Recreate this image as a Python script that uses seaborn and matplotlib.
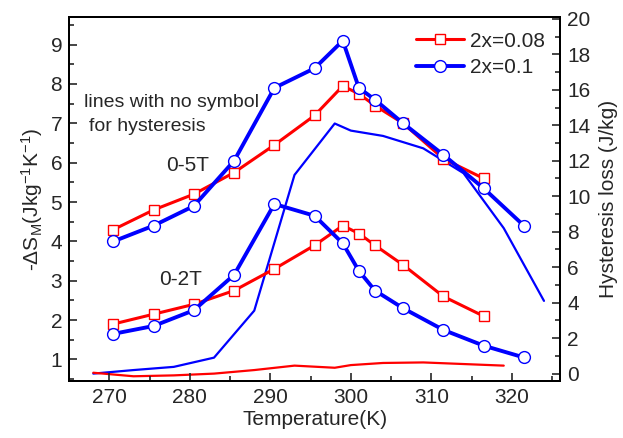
import matplotlib
matplotlib.use("Agg")
import matplotlib.pyplot as plt
from matplotlib.ticker import MultipleLocator
import seaborn as sns
import pandas as pd

# ---- data ----
T_red = [270.5, 275.5, 280.5, 285.5, 290.5, 295.5, 299, 301, 303, 306.5, 311.5, 316.5]
red_5T = [4.3, 4.8, 5.2, 5.75, 6.45, 7.2, 7.95, 7.75, 7.45, 7.0, 6.1, 5.6]
red_2T = [1.9, 2.15, 2.4, 2.75, 3.3, 3.9, 4.4, 4.2, 3.9, 3.4, 2.6, 2.1]

T_blue = [270.5, 275.5, 280.5, 285.5, 290.5, 295.5, 299, 301, 303, 306.5, 311.5, 316.5, 321.5]
blue_5T = [4.0, 4.4, 4.9, 6.05, 7.9, 8.4, 9.1, 7.9, 7.6, 7.0, 6.2, 5.35, 4.4]
blue_2T = [1.65, 1.85, 2.25, 3.15, 4.95, 4.65, 3.95, 3.25, 2.75, 2.3, 1.75, 1.35, 1.05]

T_hyst_blue = [268, 273, 278, 283, 288, 293, 298, 300, 304, 309, 314, 319, 324]
hyst_blue = [0.0, 0.2, 0.38, 0.9, 3.55, 11.2, 14.1, 13.7, 13.4, 12.7, 11.3, 8.2, 4.1]
T_hyst_red = [268, 273, 278, 283, 288, 293, 298, 300, 304, 309, 319]
hyst_red = [0.05, -0.15, -0.1, 0.0, 0.2, 0.45, 0.33, 0.48, 0.6, 0.63, 0.45]

labels = ["2x=0.08", "2x=0.1"]

sns.set_theme(style="ticks")
plt.rcParams["font.family"] = ["Liberation Sans", "DejaVu Sans"]
plt.rcParams["mathtext.fontset"] = "custom"
plt.rcParams["mathtext.rm"] = "Liberation Sans"
plt.rcParams["mathtext.it"] = "Liberation Sans:italic"
plt.rcParams["mathtext.default"] = "regular"

FS = 15
fig = plt.figure(figsize=(6.23, 4.38), dpi=100)
ax = fig.add_axes([0.111, 0.130, 0.788, 0.831])
ax2 = ax.twinx()

red_style = dict(color="red", marker="s", markersize=7, markerfacecolor="white",
                 markeredgecolor="red", markeredgewidth=1.0, linewidth=2.2)
blue_style = dict(color="blue", marker="o", markersize=8.5, markerfacecolor="white",
                  markeredgecolor="blue", markeredgewidth=1.0, linewidth=2.8)

df_r = pd.DataFrame({"T": T_red, "s5": red_5T, "s2": red_2T})
df_b = pd.DataFrame({"T": T_blue, "s5": blue_5T, "s2": blue_2T})

sns.lineplot(data=df_r, x="T", y="s5", ax=ax, label=labels[0], estimator=None, **red_style)
sns.lineplot(data=df_b, x="T", y="s5", ax=ax, label=labels[1], estimator=None, **blue_style)
sns.lineplot(data=df_r, x="T", y="s2", ax=ax, estimator=None, **red_style)
sns.lineplot(data=df_b, x="T", y="s2", ax=ax, estimator=None, **blue_style)

df_hb = pd.DataFrame({"T": T_hyst_blue, "h": hyst_blue})
df_hr = pd.DataFrame({"T": T_hyst_red, "h": hyst_red})
sns.lineplot(data=df_hb, x="T", y="h", ax=ax2, color="blue", linewidth=1.6, estimator=None, legend=False)
sns.lineplot(data=df_hr, x="T", y="h", ax=ax2, color="red", linewidth=1.6, estimator=None, legend=False)

ax.set_xlim(265, 326)
ax.set_ylim(0.45, 9.7)
ax2.set_ylim(-0.42, 20.1)

ax.xaxis.set_major_locator(MultipleLocator(10))
ax.xaxis.set_minor_locator(MultipleLocator(5))
ax.yaxis.set_major_locator(MultipleLocator(1))
ax.yaxis.set_minor_locator(MultipleLocator(0.5))
ax2.yaxis.set_major_locator(MultipleLocator(2))
ax2.yaxis.set_minor_locator(MultipleLocator(1))

for a in (ax, ax2):
    a.tick_params(which="major", direction="in", length=6, width=1.2, labelsize=FS, pad=5)
    a.tick_params(which="minor", direction="in", length=3.5, width=1.2)
    for sp in a.spines.values():
        sp.set_visible(True)
        sp.set_linewidth(1.4)
        sp.set_color("black")
ax.tick_params(axis="y", which="both", left=True, right=False)
ax.tick_params(axis="x", which="both", top=False, bottom=True)
ax2.tick_params(axis="y", which="both", right=True, left=False)

ax.set_xlabel("Temperature(K)", fontsize=FS, labelpad=2)
ax.set_ylabel(r"-ΔS$_\mathrm{M}$(Jkg$^{-1}$K$^{-1}$)", fontsize=FS, labelpad=4)
ax2.set_ylabel("Hysteresis loss (J/kg)", fontsize=FS, labelpad=6)

ax.text(266.9, 7.54, "lines with no symbol", fontsize=14, va="center", ha="left")
ax.text(267.5, 6.93, "for hysteresis", fontsize=14, va="center", ha="left")
ax.text(279.7, 5.94, "0-5T", fontsize=FS, va="center", ha="center")
ax.text(278.8, 3.02, "0-2T", fontsize=FS, va="center", ha="center")

h, l = ax.get_legend_handles_labels()
leg = ax.legend(h[:2], l[:2], loc="upper right", bbox_to_anchor=(1.0, 1.0), frameon=False,
                fontsize=FS, handlelength=2.3, handletextpad=0.3, labelspacing=0.35,
                borderaxespad=0.3)
ax.set_zorder(ax2.get_zorder() + 1)
ax.patch.set_visible(False)

fig.savefig("out.png", dpi=100)
